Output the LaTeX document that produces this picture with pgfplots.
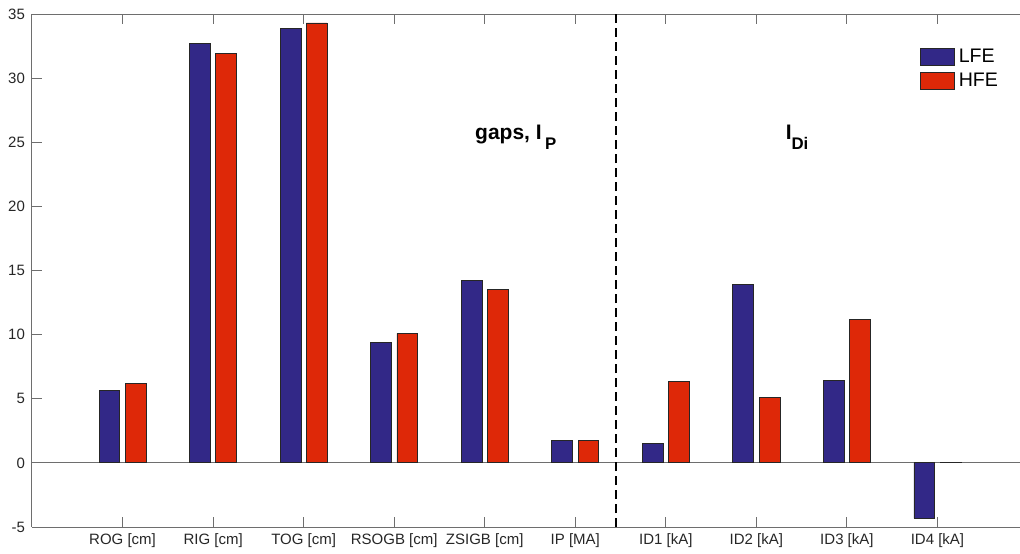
\documentclass[border=0pt]{standalone}
\usepackage{fontspec}
\setmainfont{Liberation Sans}
\usepackage{pgfplots}
\pgfplotsset{compat=1.18}
\definecolor{lfe}{RGB}{50,40,135}
\definecolor{hfe}{RGB}{222,40,8}
\definecolor{tickcol}{RGB}{38,38,38}
\definecolor{axcol}{RGB}{110,110,110}
\begin{document}
\begin{tikzpicture}
\begin{axis}[
  at={(0,0)}, anchor=south west,
  scale only axis, width=498pt, height=256.5pt,
  xmin=0, xmax=11, ymin=-5, ymax=35,
  axis y line*=left,
  axis line style={axcol, line width=0.5pt},
  every tick/.style={axcol, line width=0.5pt},
  major tick length=5pt,
  tick align=inside,
  xtick={1,...,10},
  xticklabels={ROG [cm], RIG [cm], TOG [cm], RSOGB [cm], ZSIGB [cm], IP [MA], ID1 [kA], ID2 [kA], ID3 [kA], ID4 [kA]},
  ytick={-5,0,...,35},
  /pgf/number format/assume math mode=true,
  ticklabel style={font=\fontsize{7.5}{9}\selectfont, text=tickcol},
  legend style={at={(axis cs:9.78,32.8)}, anchor=north west, draw=none, fill=none,
    font=\fontsize{9.8}{11}\selectfont, row sep=0pt, inner sep=1pt,
    legend cell align=left},
  legend image code/.code={\draw[#1] (0pt,-4.25pt) rectangle (17pt,4.25pt);},
]
\draw[axcol, line width=0.5pt] (axis cs:0,0) -- (axis cs:11,0);
\addplot[ybar, bar width=0.23, bar shift=-0.145, fill=lfe, draw=black!85, line width=0.4pt]
  coordinates {(1,5.67) (2,32.7) (3,33.9) (4,9.4) (5,14.2) (6,1.78) (7,1.52) (8,13.9) (9,6.4) (10,-4.33)};
\addlegendentry{LFE}
\addplot[ybar, bar width=0.23, bar shift=0.145, fill=hfe, draw=black!85, line width=0.4pt]
  coordinates {(1,6.2) (2,31.9) (3,34.3) (4,10.1) (5,13.5) (6,1.78) (7,6.35) (8,5.07) (9,11.2) (10,0.05)};
\addlegendentry{HFE}
\draw[black, line width=1.4pt, dash pattern=on 4.5pt off 2.5pt] (axis cs:6.45,-5) -- (axis cs:6.45,35);
\node[font=\bfseries\fontsize{10.5}{12}\selectfont, inner sep=0pt, anchor=base west] at (axis cs:4.89,25.2)
  {gaps, I\,\raisebox{-5pt}{\fontsize{8.4}{10}\selectfont P}};
\node[font=\bfseries\fontsize{10.5}{12}\selectfont, inner sep=0pt, anchor=base west] at (axis cs:8.32,25.2)
  {I\raisebox{-5pt}{\fontsize{8.4}{10}\selectfont Di}};
\end{axis}
\pgfresetboundingbox
\useasboundingbox (-16pt,-13pt) rectangle (494pt,263.5pt);
\end{tikzpicture}
\end{document}
